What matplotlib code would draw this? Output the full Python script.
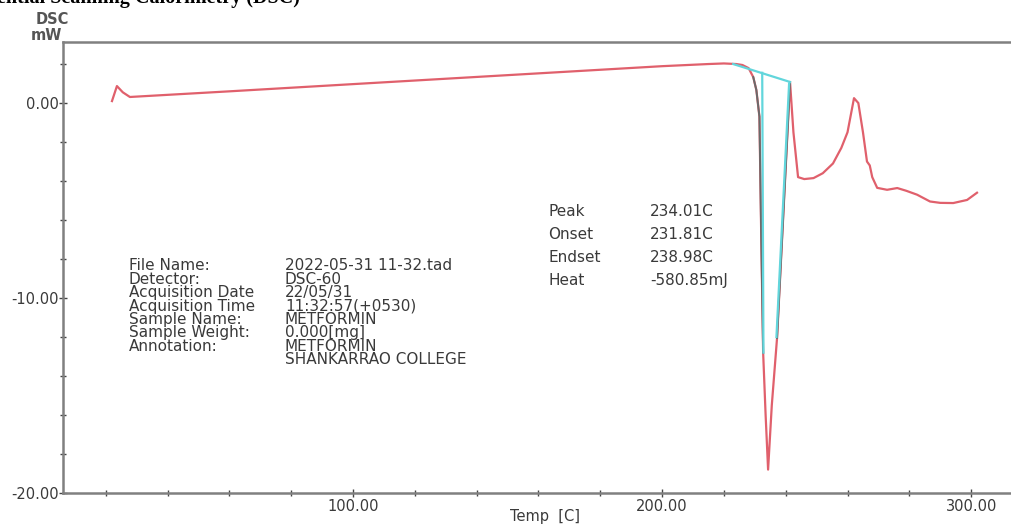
import numpy as np
import matplotlib
matplotlib.use("Agg")
import matplotlib.pyplot as plt
from matplotlib.ticker import MultipleLocator, FixedLocator, FuncFormatter

# ---------------- data ----------------
temp = [22.0, 23.6, 25.5, 27.8, 30.0, 60.0, 100.0, 150.0, 200.0, 215.0, 220.0,
        224.0, 226.0, 228.0, 229.5, 230.5, 231.5, 232.0, 232.7, 233.5, 234.3,
        235.5, 237.2, 239.2, 241.4, 242.5, 244.0, 246.0, 249.0, 252.0, 255.3,
        258.0, 260.0, 262.1, 263.5, 265.0, 266.3, 267.2, 268.0, 269.6, 272.8,
        276.1, 279.0, 282.5, 286.7, 290.0, 294.2, 298.7, 301.9]
dsc = [0.10, 0.87, 0.55, 0.31, 0.33, 0.60, 0.97, 1.43, 1.89, 2.00, 2.03,
       2.00, 1.95, 1.79, 1.33, 0.67, -0.70, -6.0, -12.8, -16.0, -18.8,
       -15.5, -12.05, -5.8, 1.08, -1.5, -3.8, -3.9, -3.85, -3.6, -3.1,
       -2.3, -1.5, 0.25, 0.0, -1.5, -3.0, -3.2, -3.8, -4.35, -4.45,
       -4.36, -4.5, -4.7, -5.05, -5.12, -5.13, -4.97, -4.6]

# integration / tangent lines (temp, mW)
base_t = [223.0, 241.4]
base_v = [2.0, 1.08]
left_t = [232.4, 232.8]
left_v = [1.55, -12.8]
right_t = [241.1, 237.0]
right_v = [1.0, -12.0]

xticks_major = [100, 200, 300]
yticks_major = [0, -10, -20]

info_labels = ["File Name:", "Detector:", "Acquisition Date", "Acquisition Time",
               "Sample Name:", "Sample Weight:", "Annotation:", ""]
info_values = ["2022-05-31 11-32.tad", "DSC-60", "22/05/31", "11:32:57(+0530)",
               "METFORMIN", "0.000[mg]", "METFORMIN", "SHANKARRAO COLLEGE"]

res_labels = ["Peak", "Onset", "Endset", "Heat"]
res_values = ["234.01C", "231.81C", "238.98C", "-580.85mJ"]

# ---------------- figure ----------------
W, H = 1011, 526
fig = plt.figure(figsize=(W / 100, H / 100), dpi=100)
ax_l, ax_b = 63 / W, (H - 493) / H
ax = fig.add_axes([ax_l, ax_b, 1.0 - ax_l, (493 - 42) / H])
ax.set_xlim(6.15, 312.9)
ax.set_ylim(-20, 3.13)

t = np.array(temp)
v = np.array(dsc)
red = "#e0606c"
ax.plot(t, v, color=red, lw=1.6, solid_joinstyle="round", zorder=3)
# grey upper parts of the dip
mask = (t >= 229.5) & (t <= 241.4) & (v > -12.9)
ax.plot(np.where(mask, t, np.nan), np.where(mask, v, np.nan),
        color="#6a6a6a", lw=1.4, zorder=4)
cyan = "#62d6dc"
ax.plot(base_t, base_v, color=cyan, lw=1.6, zorder=5)
ax.plot(left_t, left_v, color=cyan, lw=1.6, zorder=5)
ax.plot(right_t, right_v, color=cyan, lw=1.6, zorder=5)

spc = "#808080"
for s in ["left", "bottom", "top"]:
    ax.spines[s].set_color(spc)
    ax.spines[s].set_linewidth(1.8)
ax.spines["right"].set_visible(False)

ax.xaxis.set_major_locator(FixedLocator(xticks_major))
ax.xaxis.set_minor_locator(MultipleLocator(20))
ax.yaxis.set_major_locator(FixedLocator(yticks_major))
ax.yaxis.set_minor_locator(MultipleLocator(2))
fmt = FuncFormatter(lambda val, pos: f"{val:.2f}")
ax.xaxis.set_major_formatter(fmt)
ax.yaxis.set_major_formatter(fmt)
ax.tick_params(which="both", direction="inout", color="#444444", width=1.0)
ax.tick_params(which="major", length=6, labelsize=10.5, labelcolor="#3a3a3a")
ax.tick_params(which="minor", length=4)
ax.tick_params(axis="y", which="major", pad=0)
ax.tick_params(axis="x", which="major", pad=1)
ax.tick_params(top=False, right=False, which="both")

tc = "#3a3a3a"
fs = 11
fig.text(545 / W, 1 - 517 / H, "Temp  [C]", ha="center", va="center",
         fontsize=10.5, color=tc)

fig.text(52 / W, 1 - 20 / H, "DSC", ha="center", va="center", fontsize=10.5,
         fontweight="bold", color="#555555")
fig.text(46 / W, 1 - 35 / H, "mW", ha="center", va="center", fontsize=10.5,
         fontweight="bold", color="#555555")

# cut-off heading at the top
fig.text(300 / W, 1 - 3 / H, "Differential Scanning Calorimetry (DSC)",
         ha="right", va="baseline", fontsize=14.5, fontweight="bold",
         family="Liberation Serif", color="black")

# information block
for i, (lab, val) in enumerate(zip(info_labels, info_values)):
    y = 1 - (266 + i * 13.4) / H
    if lab:
        fig.text(129 / W, y, lab, ha="left", va="center", fontsize=fs, color=tc)
    fig.text(285 / W, y, val, ha="left", va="center", fontsize=fs, color=tc)

for i, (lab, val) in enumerate(zip(res_labels, res_values)):
    y = 1 - (212 + i * 22.8) / H
    fig.text(548 / W, y, lab, ha="left", va="center", fontsize=fs, color=tc)
    fig.text(650 / W, y, val, ha="left", va="center", fontsize=fs, color=tc)

fig.savefig("out.png", dpi=100)
